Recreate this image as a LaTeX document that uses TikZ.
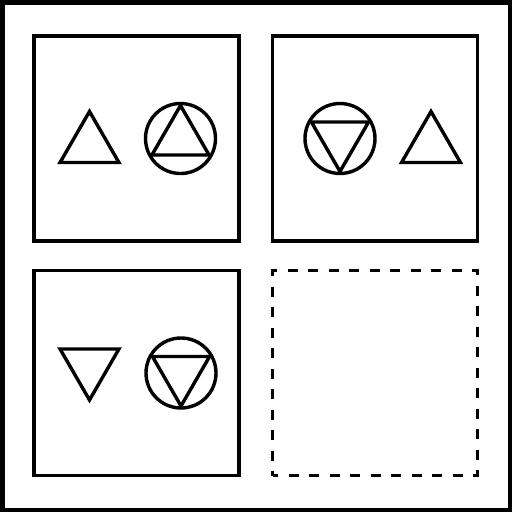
\documentclass[tikz,border=0pt]{standalone}
\usetikzlibrary{shapes.geometric}
\begin{document}
\begin{tikzpicture}[x=1pt, y=-1pt,
    panel/.style={draw, line width=3.6pt, minimum size=205pt, inner sep=0pt},
    spare/.style={panel, dash pattern=on 10pt off 10.5pt, dash phase=4.5pt},
    tri/.style={draw, line width=3.4pt, regular polygon, regular polygon sides=3,
        inner sep=0pt, minimum size=#1},
    tri/.default=68pt,
    uptri/.style={tri=#1},
    uptri/.default=68pt,
    downtri/.style={tri=#1, shape border rotate=180},
    downtri/.default=68pt,
    ring/.style={draw, circle, line width=3.4pt, inner sep=0pt, minimum size=70pt}]
\useasboundingbox (0,0) rectangle (512,512);
% outer frame
\draw[line width=4.5pt] (2.25,2.25) rectangle (509.75,509.75);
% panels
\node[panel] (p1) at (136.5,138.5) {};
\node[panel] (p2) at (375,138.5) {};
\node[panel] (p3) at (136.5,373) {};
\node[spare] (p4) at (375,373) {};
% panel 1
\node[uptri] (a1) at (89.5,145.5) {};
\node[ring] (r1) at (180.5,138.5) {};
\node[uptri=66pt] (t1) at (r1.center) {};
% panel 2
\node[ring] (r2) at (340,138.5) {};
\node[downtri=66pt] (t2) at (r2.center) {};
\node[uptri] (a2) at (431,145.5) {};
% panel 3
\node[downtri] (a3) at (89.5,366) {};
\node[ring] (r3) at (181,373) {};
\node[downtri=66pt] (t3) at (r3.center) {};
\end{tikzpicture}
\end{document}
